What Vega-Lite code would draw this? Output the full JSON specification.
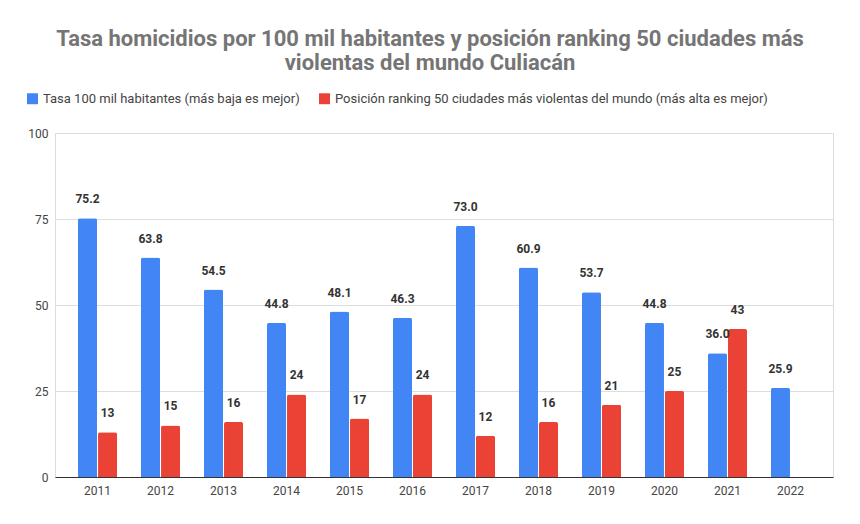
{
  "$schema": "https://vega.github.io/schema/vega-lite/v6.json",
  "width": 778,
  "height": 344,
  "autosize": {"type": "none"},
  "padding": {"left": 55, "top": 133, "right": 27, "bottom": 47},
  "background": "white",
  "title": {
    "text": ["Tasa homicidios por 100 mil habitantes y posición ranking 50 ciudades más", "violentas del mundo Culiacán"],
    "font": "Roboto",
    "fontSize": 22,
    "fontWeight": "bold",
    "color": "#757575",
    "anchor": "middle",
    "dx": -14,
    "offset": 17,
    "lineHeight": 24
  },
  "data": {
    "values": [
      {"year": "2011", "serie": "Tasa 100 mil habitantes (más baja es mejor)", "valor": 75.2},
      {"year": "2012", "serie": "Tasa 100 mil habitantes (más baja es mejor)", "valor": 63.8},
      {"year": "2013", "serie": "Tasa 100 mil habitantes (más baja es mejor)", "valor": 54.5},
      {"year": "2014", "serie": "Tasa 100 mil habitantes (más baja es mejor)", "valor": 44.8},
      {"year": "2015", "serie": "Tasa 100 mil habitantes (más baja es mejor)", "valor": 48.1},
      {"year": "2016", "serie": "Tasa 100 mil habitantes (más baja es mejor)", "valor": 46.3},
      {"year": "2017", "serie": "Tasa 100 mil habitantes (más baja es mejor)", "valor": 73.0},
      {"year": "2018", "serie": "Tasa 100 mil habitantes (más baja es mejor)", "valor": 60.9},
      {"year": "2019", "serie": "Tasa 100 mil habitantes (más baja es mejor)", "valor": 53.7},
      {"year": "2020", "serie": "Tasa 100 mil habitantes (más baja es mejor)", "valor": 44.8},
      {"year": "2021", "serie": "Tasa 100 mil habitantes (más baja es mejor)", "valor": 36.0},
      {"year": "2022", "serie": "Tasa 100 mil habitantes (más baja es mejor)", "valor": 25.9},
      {"year": "2011", "serie": "Posición ranking 50 ciudades más violentas del mundo (más alta es mejor)", "valor": 13},
      {"year": "2012", "serie": "Posición ranking 50 ciudades más violentas del mundo (más alta es mejor)", "valor": 15},
      {"year": "2013", "serie": "Posición ranking 50 ciudades más violentas del mundo (más alta es mejor)", "valor": 16},
      {"year": "2014", "serie": "Posición ranking 50 ciudades más violentas del mundo (más alta es mejor)", "valor": 24},
      {"year": "2015", "serie": "Posición ranking 50 ciudades más violentas del mundo (más alta es mejor)", "valor": 17},
      {"year": "2016", "serie": "Posición ranking 50 ciudades más violentas del mundo (más alta es mejor)", "valor": 24},
      {"year": "2017", "serie": "Posición ranking 50 ciudades más violentas del mundo (más alta es mejor)", "valor": 12},
      {"year": "2018", "serie": "Posición ranking 50 ciudades más violentas del mundo (más alta es mejor)", "valor": 16},
      {"year": "2019", "serie": "Posición ranking 50 ciudades más violentas del mundo (más alta es mejor)", "valor": 21},
      {"year": "2020", "serie": "Posición ranking 50 ciudades más violentas del mundo (más alta es mejor)", "valor": 25},
      {"year": "2021", "serie": "Posición ranking 50 ciudades más violentas del mundo (más alta es mejor)", "valor": 43}
    ]
  },
  "encoding": {
    "x": {
      "field": "year",
      "type": "ordinal",
      "scale": {"paddingInner": 0.38, "paddingOuter": 0.365},
      "axis": {
        "title": null,
        "labelAngle": 0,
        "ticks": false,
        "domainColor": "#333333",
        "labelPadding": 8,
        "labelFont": "Roboto",
        "labelFontSize": 12,
        "labelColor": "#444444"
      }
    },
    "xOffset": {
      "field": "serie",
      "type": "nominal",
      "sort": ["Tasa 100 mil habitantes (más baja es mejor)", "Posición ranking 50 ciudades más violentas del mundo (más alta es mejor)"],
      "scale": {"paddingInner": 0.05}
    },
    "y": {
      "field": "valor",
      "type": "quantitative",
      "scale": {"domain": [0, 100]},
      "axis": {
        "title": null,
        "values": [0, 25, 50, 75, 100],
        "domain": false,
        "ticks": false,
        "gridColor": "#dddddd",
        "labelPadding": 7,
        "labelFont": "Roboto",
        "labelFontSize": 12,
        "labelColor": "#444444"
      }
    }
  },
  "layer": [
    {
      "mark": {"type": "bar", "cornerRadiusTopLeft": 2, "cornerRadiusTopRight": 2},
      "encoding": {
        "color": {
          "field": "serie",
          "type": "nominal",
          "sort": ["Tasa 100 mil habitantes (más baja es mejor)", "Posición ranking 50 ciudades más violentas del mundo (más alta es mejor)"],
          "scale": {"range": ["#4285f4", "#ea4335"]},
          "legend": {
            "title": null,
            "orient": "none",
            "legendX": -29,
            "legendY": -41,
            "direction": "horizontal",
            "symbolType": "square",
            "symbolSize": 120,
            "symbolStrokeWidth": 0,
            "labelFont": "Roboto",
            "labelFontSize": 13,
            "labelColor": "#444444",
            "labelLimit": 0,
            "columnPadding": 18
          }
        }
      }
    },
    {
      "transform": [{"filter": "datum.serie == 'Tasa 100 mil habitantes (más baja es mejor)'"}],
      "mark": {"type": "text", "dy": -15, "baseline": "alphabetic", "font": "Roboto", "fontSize": 12, "fontWeight": "bold", "color": "#333333"},
      "encoding": {"text": {"field": "valor", "type": "quantitative", "format": ".1f"}}
    },
    {
      "transform": [{"filter": "datum.serie != 'Tasa 100 mil habitantes (más baja es mejor)'"}],
      "mark": {"type": "text", "dy": -15, "baseline": "alphabetic", "font": "Roboto", "fontSize": 12, "fontWeight": "bold", "color": "#333333"},
      "encoding": {"text": {"field": "valor", "type": "quantitative", "format": "d"}}
    }
  ]
}
